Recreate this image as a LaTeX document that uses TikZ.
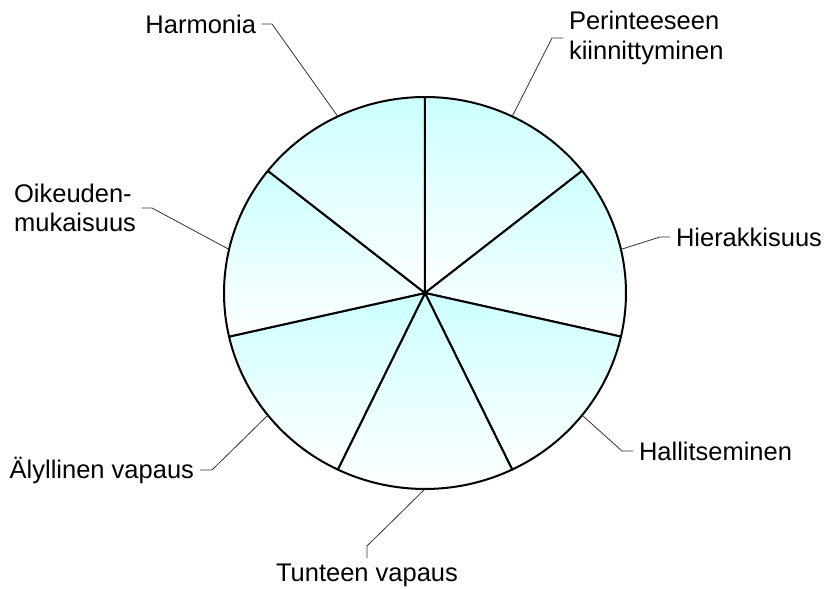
\documentclass[tikz,border=0pt]{standalone}
\usepackage{fontspec}
\setmainfont{Liberation Sans}
\usetikzlibrary{calc}
\definecolor{pieCyan}{RGB}{204,255,255}
\definecolor{leadGray}{RGB}{50,50,50}

\begin{document}
\begin{tikzpicture}[x=1pt, y=1pt,
    slice/.style={draw=black, line width=2pt, line join=round,
                  top color=pieCyan, bottom color=white},
    lbl/.style={inner sep=0pt, outer sep=6pt, align=left,
                font=\fontsize{25.5}{29.5}\selectfont},
    leader/.style={draw=leadGray, line width=0.8pt}
  ]
  \useasboundingbox (-425,-296) rectangle (400,293);
  % seven equal slices, clockwise from the top
  \foreach \i in {0,...,6} {
    \pgfmathsetmacro{\a}{90-360/7*\i}
    \pgfmathsetmacro{\b}{90-360/7*(\i+1)}
    \pgfmathsetmacro{\m}{(\a+\b)/2}
    \path[slice] (0,0) -- (\a:201 and 196)
      arc[start angle=\a, end angle=\b, x radius=201, y radius=196] -- cycle;
    \coordinate (tip\i) at (\m:201 and 196);
  }

  \node[lbl, anchor=west]  (perinne)   at (138,255)   {Perinteeseen\\kiinnittyminen};
  \node[lbl, anchor=west]  (hierarkia) at (245,56)    {Hierakkisuus};
  \node[lbl, anchor=west]  (hallinta)  at (208,-158)  {Hallitseminen};
  \node[lbl, anchor=north] (tunne)     at (-58,-265)  {Tunteen vapaus};
  \node[lbl, anchor=east]  (aly)       at (-225,-177) {Älyllinen vapaus};
  \node[lbl, anchor=east]  (oikeus)    at (-283,85)   {Oikeuden-\\mukaisuus};
  \node[lbl, anchor=east]  (harmonia)  at (-163,269)  {Harmonia};

  \draw[leader] (tip0) -- (127,255)   -- (perinne.west);
  \draw[leader] (tip1) -- (235,56)    -- (hierarkia.west);
  \draw[leader] (tip2) -- (197,-158)  -- (hallinta.west);
  \draw[leader] (tip3) -- (-58,-253)  -- (tunne.north);
  \draw[leader] (tip4) -- (-213,-177) -- (aly.east);
  \draw[leader] (tip5) -- (-273,85)   -- (oikeus.east);
  \draw[leader] (tip6) -- (-153,269)  -- (harmonia.east);
\end{tikzpicture}
\end{document}
